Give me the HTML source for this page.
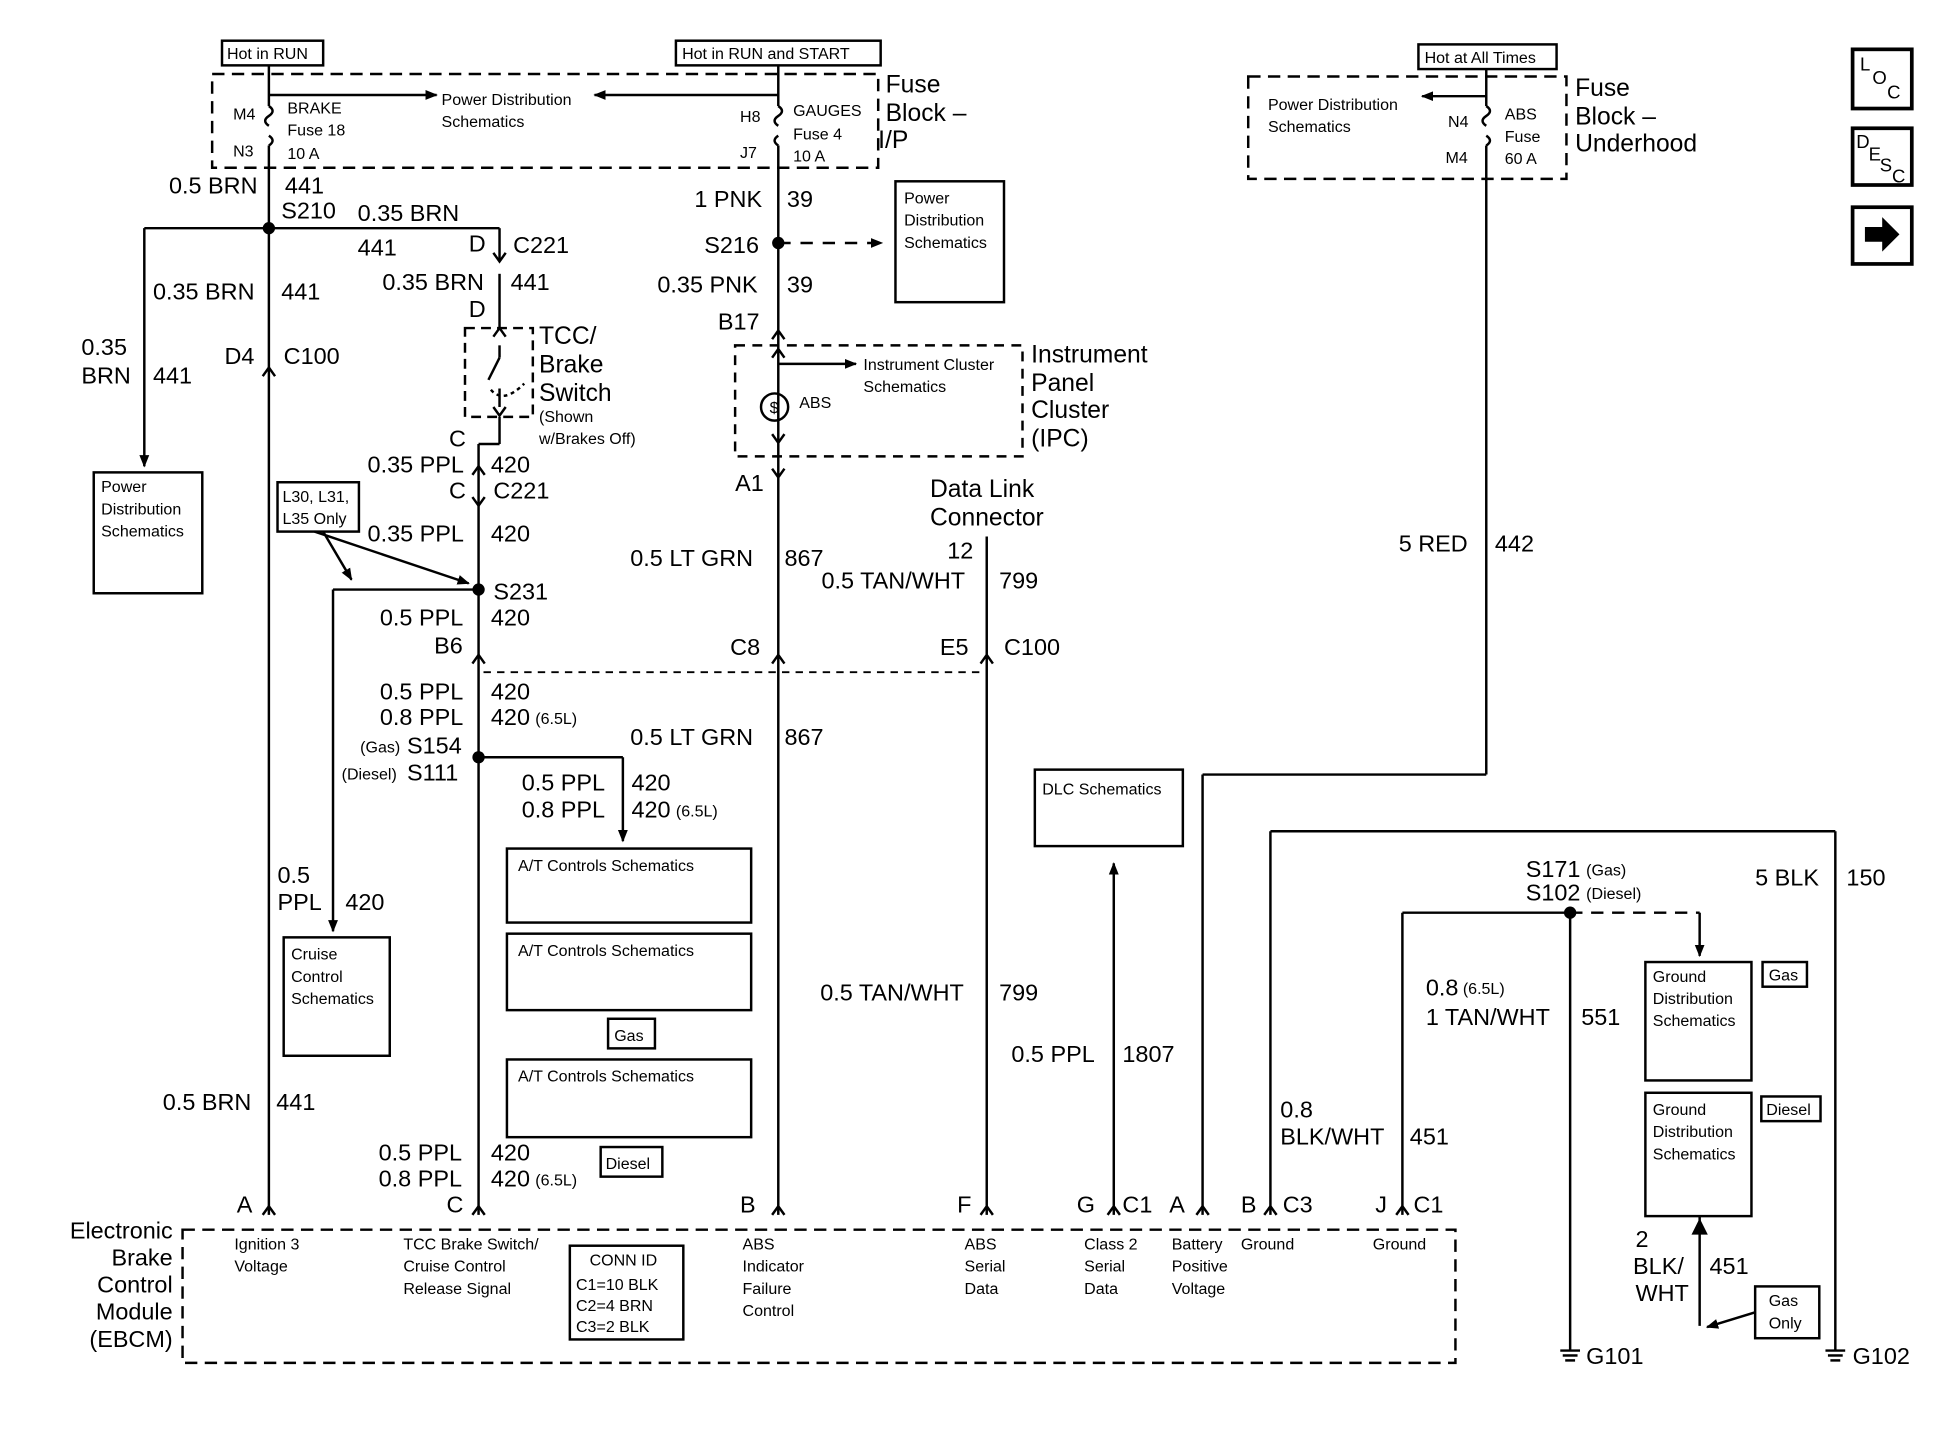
<!DOCTYPE html>
<html><head><meta charset="utf-8"><style>
html,body{margin:0;padding:0;background:#fff;}
svg{display:block;}
text{font-family:"Liberation Sans",Arial,sans-serif;fill:#000;}
.b{font-size:19px;}
.s{font-size:13px;}
.m{font-size:15px;}
.l{font-size:20px;}
</style></head><body>
<svg width="1934" height="1456" viewBox="0 0 1568 1180.5" preserveAspectRatio="none" xmlns="http://www.w3.org/2000/svg">
<defs>
<marker id="ah" markerWidth="10" markerHeight="10" refX="9" refY="5" orient="auto" markerUnits="userSpaceOnUse"><path d="M0,1 L10,5 L0,9 Z" fill="#000"/></marker>
</defs>
<g fill="none" stroke="#000" stroke-width="2">
<!-- top fuse block I/P -->
<rect x="172" y="60" width="540" height="76" stroke-dasharray="10,6"/>
<rect x="180" y="33" width="82" height="20"/>
<rect x="548" y="33" width="166" height="20"/>
<line x1="218" y1="53" x2="218" y2="86"/>
<path d="M218,86 q6,4 0,8 q-6,4 0,8"/>
<path d="M218,110 q6,4 0,8"/>
<line x1="218" y1="118" x2="218" y2="985"/>
<line x1="218" y1="77" x2="354" y2="77" marker-end="url(#ah)"/>
<line x1="631" y1="53" x2="631" y2="86"/>
<path d="M631,86 q6,4 0,8 q-6,4 0,8"/>
<path d="M631,110 q-6,4 0,8"/>
<line x1="631" y1="118" x2="631" y2="985"/>
<line x1="631" y1="77" x2="482" y2="77" marker-end="url(#ah)"/>
<!-- S210 branches -->
<line x1="117" y1="185" x2="405" y2="185"/>
<line x1="117" y1="185" x2="117" y2="378" marker-end="url(#ah)"/>
<rect x="76" y="383" width="88" height="98"/>
<line x1="405" y1="185" x2="405" y2="212"/>
<path d="M400,205 l5,7 l5,-7"/>
<line x1="405" y1="222" x2="405" y2="266"/>
<path d="M400,273 l5,-7 l5,7"/>
<rect x="377" y="266" width="55" height="72" stroke-dasharray="8,5"/>
<line x1="405" y1="280" x2="405" y2="290"/>
<line x1="405" y1="290" x2="396" y2="308"/>
<line x1="405" y1="315" x2="405" y2="330"/>
<path d="M398,316 q10,12 27,-5" stroke-dasharray="3,3"/>
<path d="M400,330 l5,7 l5,-7"/>
<line x1="405" y1="338" x2="405" y2="360"/>
<line x1="388" y1="360" x2="388" y2="985"/>
<line x1="388" y1="360" x2="405" y2="360"/>
<path d="M383,385 l5,-7 l5,7"/>
<path d="M383,403 l5,7 l5,-7"/>
<!-- L30 box -->
<rect x="225" y="391" width="66" height="40"/>
<line x1="255" y1="431" x2="380" y2="473" marker-end="url(#ah)"/>
<line x1="262" y1="431" x2="285" y2="470" marker-end="url(#ah)"/>
<line x1="388" y1="478" x2="270" y2="478"/>
<line x1="270" y1="478" x2="270" y2="755" marker-end="url(#ah)"/>
<rect x="230" y="760" width="86" height="96"/>
<path d="M383,538 l5,-7 l5,7"/>
<line x1="392" y1="545" x2="800" y2="545" stroke-dasharray="6,5" stroke-width="1.5"/>
<line x1="388" y1="614" x2="505" y2="614"/>
<line x1="505" y1="614" x2="505" y2="682" marker-end="url(#ah)"/>
<rect x="411" y="688" width="198" height="60"/>
<rect x="411" y="757" width="198" height="62"/>
<rect x="493" y="826" width="38" height="24"/>
<rect x="411" y="859" width="198" height="63"/>
<rect x="487" y="930" width="50" height="24"/>
<!-- left chevrons -->
<path d="M213,305 l5,-7 l5,7"/>
<path d="M213,985 l5,-7 l5,7"/>
<path d="M383,985 l5,-7 l5,7"/>
<!-- middle column -->
<line x1="631" y1="197" x2="715" y2="197" stroke-dasharray="10,8" marker-end="url(#ah)"/>
<rect x="726" y="147" width="88" height="98"/>
<path d="M626,275 l5,-7 l5,7"/>
<rect x="596" y="280" width="233" height="90" stroke-dasharray="8,6"/>
<line x1="631" y1="295" x2="694" y2="295" marker-end="url(#ah)"/>
<path d="M626,290 l5,-7 l5,7"/>
<circle cx="628" cy="330" r="11"/>
<path d="M626,352 l5,7 l5,-7"/>
<path d="M626,380 l5,7 l5,-7"/>
<path d="M626,538 l5,-7 l5,7"/>
<path d="M626,985 l5,-7 l5,7"/>
<!-- DLC -->
<line x1="800" y1="435" x2="800" y2="985"/>
<path d="M795,538 l5,-7 l5,7"/>
<path d="M795,985 l5,-7 l5,7"/>
<rect x="839" y="624" width="120" height="62"/>
<line x1="903" y1="985" x2="903" y2="700" marker-end="url(#ah)"/>
<path d="M898,985 l5,-7 l5,7"/>
<!-- battery -->
<line x1="975" y1="985" x2="975" y2="628"/>
<line x1="975" y1="628" x2="1205" y2="628"/>
<line x1="1205" y1="628" x2="1205" y2="118"/>
<path d="M1205,110 q6,4 0,8"/>
<path d="M1205,86 q6,4 0,8 q-6,4 0,8"/>
<line x1="1205" y1="56" x2="1205" y2="86"/>
<line x1="1205" y1="78" x2="1153" y2="78" marker-end="url(#ah)"/>
<rect x="1012" y="62" width="258" height="83" stroke-dasharray="10,6"/>
<rect x="1150" y="36" width="112" height="20"/>
<path d="M970,985 l5,-7 l5,7"/>
<!-- ground -->
<line x1="1030" y1="985" x2="1030" y2="674"/>
<line x1="1030" y1="674" x2="1488" y2="674"/>
<line x1="1488" y1="674" x2="1488" y2="1095"/>
<path d="M1025,985 l5,-7 l5,7"/>
<line x1="1137" y1="985" x2="1137" y2="740"/>
<line x1="1137" y1="740" x2="1273" y2="740"/>
<path d="M1132,985 l5,-7 l5,7"/>
<line x1="1273" y1="740" x2="1378" y2="740" stroke-dasharray="10,7"/>
<line x1="1378" y1="740" x2="1378" y2="775" marker-end="url(#ah)"/>
<line x1="1273" y1="740" x2="1273" y2="1095"/>
<rect x="1334" y="780" width="86" height="96"/>
<rect x="1334" y="886" width="86" height="100"/>
<rect x="1429" y="780" width="36" height="20"/>
<rect x="1428" y="889" width="48" height="20"/>
<line x1="1378" y1="986" x2="1378" y2="1075"/>
<path d="M1373,1000 l5,-10 l5,10 z" fill="#000"/>
<line x1="1273" y1="1075" x2="1378" y2="1075" stroke="none"/>
<rect x="1423" y="1043" width="52" height="42"/>
<line x1="1423" y1="1064" x2="1384" y2="1076" marker-end="url(#ah)"/>
<!-- EBCM -->
<rect x="148" y="997" width="1032" height="108" stroke-dasharray="10,6"/>
<rect x="462" y="1010" width="92" height="76"/>
<!-- right icons -->
<rect x="1502" y="40" width="48" height="48" stroke-width="3"/>
<rect x="1502" y="104" width="48" height="46" stroke-width="3"/>
<rect x="1502" y="168" width="48" height="46" stroke-width="3"/>
</g>
<!-- grounds -->
<g stroke="#000" stroke-width="2">
<line x1="1265" y1="1095" x2="1281" y2="1095"/><line x1="1267" y1="1099" x2="1279" y2="1099"/><line x1="1269" y1="1103" x2="1277" y2="1103"/>
<line x1="1480" y1="1095" x2="1496" y2="1095"/><line x1="1482" y1="1099" x2="1494" y2="1099"/><line x1="1484" y1="1103" x2="1492" y2="1103"/>
</g>
<g fill="#000">
<circle cx="218" cy="185" r="5"/><circle cx="631" cy="197" r="5"/><circle cx="388" cy="478" r="5"/><circle cx="388" cy="614" r="5"/><circle cx="1273" cy="740" r="5"/>
<path d="M1512,184 h14 v-8 l14,14 l-14,14 v-8 h-14 z"/>
</g>
<text x="624" y="335" class="s">$</text>
<!-- texts -->
<text x="184" y="48" class="s">Hot in RUN</text>
<text x="553" y="48" class="s">Hot in RUN and START</text>
<text x="1155" y="51" class="s">Hot at All Times</text>
<text x="358" y="85" class="s">Power Distribution</text>
<text x="358" y="103" class="s">Schematics</text>
<text x="189" y="97" class="s">M4</text><text x="189" y="127" class="s">N3</text>
<text x="233" y="92" class="s">BRAKE</text><text x="233" y="110" class="s">Fuse 18</text><text x="233" y="129" class="s">10 A</text>
<text x="600" y="99" class="s">H8</text><text x="600" y="128" class="s">J7</text>
<text x="643" y="94" class="s">GAUGES</text><text x="643" y="113" class="s">Fuse 4</text><text x="643" y="131" class="s">10 A</text>
<text x="718" y="75" class="l">Fuse</text><text x="718" y="98" class="l">Block –</text><text x="712" y="120" class="l">I/P</text>
<text x="137" y="157" class="b">0.5 BRN</text><text x="231" y="157" class="b">441</text>
<text x="228" y="177" class="b">S210</text><text x="290" y="179" class="b">0.35 BRN</text>
<text x="290" y="207" class="b">441</text><text x="380" y="204" class="b">D</text><text x="416" y="205" class="b">C221</text>
<text x="124" y="243" class="b">0.35 BRN</text><text x="228" y="243" class="b">441</text>
<text x="310" y="235" class="b">0.35 BRN</text><text x="414" y="235" class="b">441</text>
<text x="380" y="257" class="b">D</text>
<text x="66" y="288" class="b">0.35</text><text x="66" y="311" class="b">BRN</text><text x="124" y="311" class="b">441</text>
<text x="182" y="295" class="b">D4</text><text x="230" y="295" class="b">C100</text>
<text x="82" y="399" class="s">Power</text><text x="82" y="417" class="s">Distribution</text><text x="82" y="435" class="s">Schematics</text>
<text x="437" y="279" class="l">TCC/</text><text x="437" y="302" class="l">Brake</text><text x="437" y="325" class="l">Switch</text>
<text x="437" y="342" class="s">(Shown</text><text x="437" y="360" class="s">w/Brakes Off)</text>
<text x="364" y="362" class="b">C</text>
<text x="298" y="383" class="b">0.35 PPL</text><text x="398" y="383" class="b">420</text>
<text x="364" y="404" class="b">C</text><text x="400" y="404" class="b">C221</text>
<text x="229" y="407" class="s">L30, L31,</text><text x="229" y="425" class="s">L35 Only</text>
<text x="298" y="439" class="b">0.35 PPL</text><text x="398" y="439" class="b">420</text>
<text x="400" y="486" class="b">S231</text>
<text x="308" y="507" class="b">0.5 PPL</text><text x="398" y="507" class="b">420</text>
<text x="352" y="530" class="b">B6</text>
<text x="308" y="567" class="b">0.5 PPL</text><text x="398" y="567" class="b">420</text>
<text x="308" y="588" class="b">0.8 PPL</text><text x="398" y="588" class="b">420</text><text x="434" y="587" class="s">(6.5L)</text>
<text x="292" y="610" class="s">(Gas)</text><text x="330" y="611" class="b">S154</text>
<text x="277" y="632" class="s">(Diesel)</text><text x="330" y="633" class="b">S111</text>
<text x="423" y="641" class="b">0.5 PPL</text><text x="512" y="641" class="b">420</text>
<text x="423" y="663" class="b">0.8 PPL</text><text x="512" y="663" class="b">420</text><text x="548" y="662" class="s">(6.5L)</text>
<text x="420" y="706" class="s">A/T Controls Schematics</text>
<text x="420" y="775" class="s">A/T Controls Schematics</text>
<text x="498" y="844" class="s">Gas</text>
<text x="420" y="877" class="s">A/T Controls Schematics</text>
<text x="491" y="948" class="s">Diesel</text>
<text x="225" y="716" class="b">0.5</text><text x="225" y="738" class="b">PPL</text><text x="280" y="738" class="b">420</text>
<text x="236" y="778" class="s">Cruise</text><text x="236" y="796" class="s">Control</text><text x="236" y="814" class="s">Schematics</text>
<text x="132" y="900" class="b">0.5 BRN</text><text x="224" y="900" class="b">441</text>
<text x="307" y="941" class="b">0.5 PPL</text><text x="398" y="941" class="b">420</text>
<text x="307" y="962" class="b">0.8 PPL</text><text x="398" y="962" class="b">420</text><text x="434" y="961" class="s">(6.5L)</text>
<text x="563" y="168" class="b">1 PNK</text><text x="638" y="168" class="b">39</text>
<text x="571" y="205" class="b">S216</text>
<text x="733" y="165" class="s">Power</text><text x="733" y="183" class="s">Distribution</text><text x="733" y="201" class="s">Schematics</text>
<text x="533" y="237" class="b">0.35 PNK</text><text x="638" y="237" class="b">39</text>
<text x="582" y="267" class="b">B17</text>
<text x="700" y="300" class="s">Instrument Cluster</text><text x="700" y="318" class="s">Schematics</text>
<text x="648" y="331" class="s">ABS</text>
<text x="836" y="294" class="l">Instrument</text><text x="836" y="317" class="l">Panel</text><text x="836" y="339" class="l">Cluster</text><text x="836" y="362" class="l">(IPC)</text>
<text x="596" y="398" class="b">A1</text>
<text x="754" y="403" class="l">Data Link</text><text x="754" y="426" class="l">Connector</text>
<text x="768" y="453" class="b">12</text>
<text x="511" y="459" class="b">0.5 LT GRN</text><text x="636" y="459" class="b">867</text>
<text x="666" y="477" class="b">0.5 TAN/WHT</text><text x="810" y="477" class="b">799</text>
<text x="592" y="531" class="b">C8</text><text x="762" y="531" class="b">E5</text><text x="814" y="531" class="b">C100</text>
<text x="511" y="604" class="b">0.5 LT GRN</text><text x="636" y="604" class="b">867</text>
<text x="845" y="644" class="s">DLC Schematics</text>
<text x="665" y="811" class="b">0.5 TAN/WHT</text><text x="810" y="811" class="b">799</text>
<text x="820" y="861" class="b">0.5 PPL</text><text x="910" y="861" class="b">1807</text>
<text x="1028" y="89" class="s">Power Distribution</text><text x="1028" y="107" class="s">Schematics</text>
<text x="1174" y="103" class="s">N4</text><text x="1172" y="132" class="s">M4</text>
<text x="1220" y="97" class="s">ABS</text><text x="1220" y="115" class="s">Fuse</text><text x="1220" y="133" class="s">60 A</text>
<text x="1277" y="78" class="l">Fuse</text><text x="1277" y="101" class="l">Block –</text><text x="1277" y="123" class="l">Underhood</text>
<text x="1134" y="447" class="b">5 RED</text><text x="1212" y="447" class="b">442</text>
<text x="1237" y="711" class="b">S171</text><text x="1286" y="710" class="s">(Gas)</text>
<text x="1237" y="730" class="b">S102</text><text x="1286" y="729" class="s">(Diesel)</text>
<text x="1423" y="718" class="b">5 BLK</text><text x="1497" y="718" class="b">150</text>
<text x="1156" y="807" class="b">0.8</text><text x="1186" y="806" class="s">(6.5L)</text>
<text x="1156" y="831" class="b">1 TAN/WHT</text><text x="1282" y="831" class="b">551</text>
<text x="1340" y="796" class="s">Ground</text><text x="1340" y="814" class="s">Distribution</text><text x="1340" y="832" class="s">Schematics</text>
<text x="1434" y="795" class="s">Gas</text>
<text x="1340" y="904" class="s">Ground</text><text x="1340" y="922" class="s">Distribution</text><text x="1340" y="940" class="s">Schematics</text>
<text x="1432" y="904" class="s">Diesel</text>
<text x="1038" y="906" class="b">0.8</text><text x="1038" y="928" class="b">BLK/WHT</text><text x="1143" y="928" class="b">451</text>
<text x="1326" y="1011" class="b">2</text><text x="1324" y="1033" class="b">BLK/</text><text x="1326" y="1055" class="b">WHT</text><text x="1386" y="1033" class="b">451</text>
<text x="1434" y="1059" class="s">Gas</text><text x="1434" y="1077" class="s">Only</text>
<text x="1286" y="1106" class="b">G101</text><text x="1502" y="1106" class="b">G102</text>
<text x="192" y="983" class="b">A</text><text x="362" y="983" class="b">C</text><text x="600" y="983" class="b">B</text>
<text x="776" y="983" class="b">F</text><text x="873" y="983" class="b">G</text><text x="910" y="983" class="b">C1</text>
<text x="948" y="983" class="b">A</text><text x="1006" y="983" class="b">B</text><text x="1040" y="983" class="b">C3</text>
<text x="1115" y="983" class="b">J</text><text x="1146" y="983" class="b">C1</text>
<text x="140" y="1004" class="b" text-anchor="end">Electronic</text>
<text x="140" y="1026" class="b" text-anchor="end">Brake</text>
<text x="140" y="1048" class="b" text-anchor="end">Control</text>
<text x="140" y="1070" class="b" text-anchor="end">Module</text>
<text x="140" y="1092" class="b" text-anchor="end">(EBCM)</text>
<text x="190" y="1013" class="s">Ignition 3</text><text x="190" y="1031" class="s">Voltage</text>
<text x="327" y="1013" class="s">TCC Brake Switch/</text><text x="327" y="1031" class="s">Cruise Control</text><text x="327" y="1049" class="s">Release Signal</text>
<text x="478" y="1026" class="s">CONN ID</text>
<text x="467" y="1046" class="s">C1=10 BLK</text><text x="467" y="1063" class="s">C2=4 BRN</text><text x="467" y="1080" class="s">C3=2 BLK</text>
<text x="602" y="1013" class="s">ABS</text><text x="602" y="1031" class="s">Indicator</text><text x="602" y="1049" class="s">Failure</text><text x="602" y="1067" class="s">Control</text>
<text x="782" y="1013" class="s">ABS</text><text x="782" y="1031" class="s">Serial</text><text x="782" y="1049" class="s">Data</text>
<text x="879" y="1013" class="s">Class 2</text><text x="879" y="1031" class="s">Serial</text><text x="879" y="1049" class="s">Data</text>
<text x="950" y="1013" class="s">Battery</text><text x="950" y="1031" class="s">Positive</text><text x="950" y="1049" class="s">Voltage</text>
<text x="1006" y="1013" class="s">Ground</text><text x="1113" y="1013" class="s">Ground</text>
<text x="1508" y="57" class="m">L</text><text x="1518" y="68" class="m">O</text><text x="1530" y="80" class="m">C</text>
<text x="1505" y="120" class="m">D</text><text x="1515" y="130" class="m">E</text><text x="1524" y="139" class="m">S</text><text x="1534" y="148" class="m">C</text>
</svg>
</body></html>
